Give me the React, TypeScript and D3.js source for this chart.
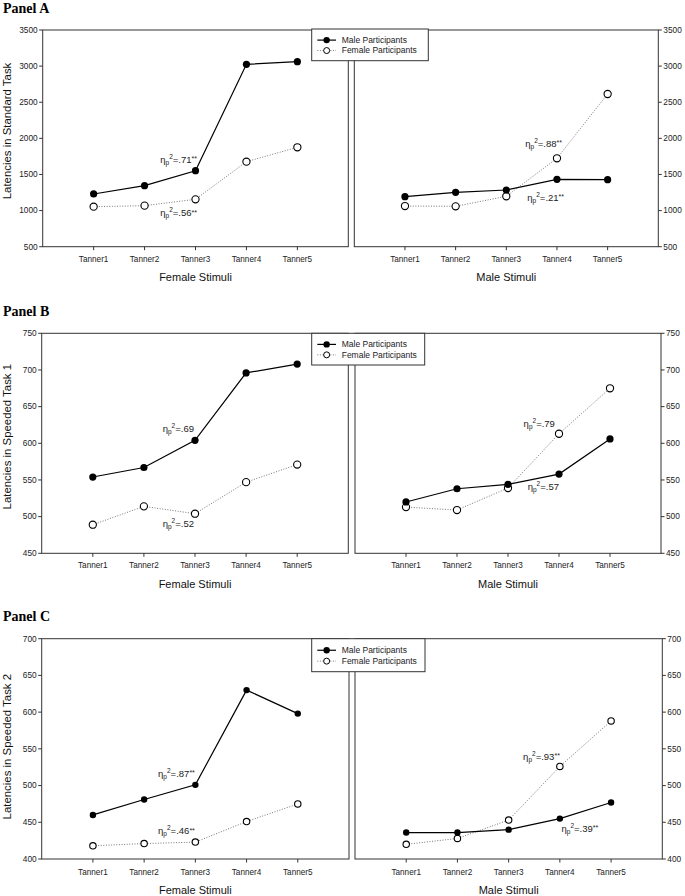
import React from "react";
import * as d3 from "d3";

// ---------- data ----------
const tanners = ["Tanner1", "Tanner2", "Tanner3", "Tanner4", "Tanner5"];
const seriesNames = ["Male Participants", "Female Participants"];

// Panel A: Standard Task
const aTicks = [500, 1000, 1500, 2000, 2500, 3000, 3500];
const aMaleFemaleStim = [1230, 1345, 1552, 3025, 3061];
const aFemaleFemaleStim = [1054, 1068, 1156, 1677, 1876];
const aMaleMaleStim = [1192, 1253, 1285, 1433, 1428];
const aFemaleMaleStim = [1063, 1059, 1198, 1724, 2614];

// Panel B: Speeded Task 1
const bTicks = [450, 500, 550, 600, 650, 700, 750];
const bMaleFemaleStim = [554, 567, 604, 696, 708];
const bFemaleFemaleStim = [489, 514, 504, 547, 571];
const bMaleMaleStim = [520, 538, 544, 558, 606];
const bFemaleMaleStim = [513, 509, 539, 613, 675];

// Panel C: Speeded Task 2
const cTicks = [400, 450, 500, 550, 600, 650, 700];
const cMaleFemaleStim = [460, 481, 501, 630, 598];
const cFemaleFemaleStim = [418, 421, 423, 451, 475];
const cMaleMaleStim = [436, 436, 440, 455, 477];
const cFemaleMaleStim = [420, 428, 453, 526, 588];

// effect size labels
const aEffects = [".71**", ".56**", ".88**", ".21**"];
const bEffects = [".69", ".52", ".79", ".57"];
const cEffects = [".87**", ".46**", ".93**", ".39**"];

// ---------- layout ----------
type Ann = { text: string; x: number; y: number };
type PanelCfg = {
  title: string;
  titleY: number;
  top: number;
  bottom: number;
  left: [number, number];
  right: [number, number];
  legendBox: [number, number, number, number];
  tickY: number;
  xLabelY: number;
  yLabelY: number;
  yLabel: string;
  ticks: number[];
  male: [number[], number[]];
  female: [number[], number[]];
  ann: [Ann[], Ann[]];
  r: number;
};

const SANS = "'Liberation Sans', Arial, Helvetica, sans-serif";
const SERIF = "'Liberation Serif', 'Times New Roman', serif";

const panels: PanelCfg[] = [
  {
    title: "Panel A",
    titleY: 12.7,
    top: 30,
    bottom: 246.7,
    left: [42.7, 348.3],
    right: [354.3, 658.3],
    legendBox: [311.7, 29, 428.3, 60.7],
    tickY: 261.5,
    xLabelY: 280.5,
    yLabelY: 131,
    yLabel: "Latencies in Standard Task",
    ticks: aTicks,
    male: [aMaleFemaleStim, aMaleMaleStim],
    female: [aFemaleFemaleStim, aFemaleMaleStim],
    ann: [
      [
        { text: aEffects[0], x: 3.03, y: 1659 },
        { text: aEffects[1], x: 3.03, y: 925 },
      ],
      [
        { text: aEffects[2], x: 4.1, y: 1885 },
        { text: aEffects[3], x: 4.14, y: 1133 },
      ],
    ],
    r: 3.6,
  },
  {
    title: "Panel B",
    titleY: 316,
    top: 333.3,
    bottom: 553.3,
    left: [41.7, 348.3],
    right: [355, 661],
    legendBox: [311.7, 333.3, 424.7, 365],
    tickY: 568,
    xLabelY: 588,
    yLabelY: 436.7,
    yLabel: "Latencies in Speeded Task 1",
    ticks: bTicks,
    male: [bMaleFemaleStim, bMaleMaleStim],
    female: [bFemaleFemaleStim, bFemaleMaleStim],
    ann: [
      [
        { text: bEffects[0], x: 2.98, y: 616 },
        { text: bEffects[1], x: 2.98, y: 486 },
      ],
      [
        { text: bEffects[2], x: 3.92, y: 622 },
        { text: bEffects[3], x: 4.0, y: 536 },
      ],
    ],
    r: 3.6,
  },
  {
    title: "Panel C",
    titleY: 620.5,
    top: 638.7,
    bottom: 859,
    left: [41.7, 349],
    right: [355, 662.3],
    legendBox: [311.7, 638.7, 425, 671.7],
    tickY: 875,
    xLabelY: 894,
    yLabelY: 746.7,
    yLabel: "Latencies in Speeded Task 2",
    ticks: cTicks,
    male: [cMaleFemaleStim, cMaleMaleStim],
    female: [cFemaleFemaleStim, cFemaleMaleStim],
    ann: [
      [
        { text: cEffects[0], x: 2.99, y: 512 },
        { text: cEffects[1], x: 2.99, y: 434 },
      ],
      [
        { text: cEffects[2], x: 4.0, y: 535 },
        { text: cEffects[3], x: 4.75, y: 437 },
      ],
    ],
    r: 3.2,
  },
];

const xLabels = ["Female Stimuli", "Male Stimuli"];
const FRAME = "#333";

function EffectLabel({ x, y, text }: { x: number; y: number; text: string }) {
  const stars = text.endsWith("**");
  const num = stars ? text.slice(0, -2) : text;
  return (
    <text x={x} y={y} textAnchor="end" fontFamily={SANS} fontSize={9.5} fill="#222">
      <tspan>η</tspan>
      <tspan fontSize={6.5} dy={2.2}>p</tspan>
      <tspan fontSize={6.5} dy={-6.2}>2</tspan>
      <tspan dy={4}>={num}</tspan>
      {stars && (
        <tspan fontSize={7} dy={-1.5}>
          **
        </tspan>
      )}
    </text>
  );
}

function Plot({
  cfg,
  side,
}: {
  cfg: PanelCfg;
  side: 0 | 1;
}) {
  const [x0, x1] = side === 0 ? cfg.left : cfg.right;
  const x = d3.scaleLinear().domain([0, 6]).range([x0, x1]);
  const ext = d3.extent(cfg.ticks) as [number, number];
  const y = d3.scaleLinear().domain(ext).range([cfg.bottom, cfg.top]);
  const line = d3
    .line<number>()
    .x((_, i) => x(i + 1))
    .y((d) => y(d));
  const male = cfg.male[side];
  const female = cfg.female[side];
  const axisX = side === 0 ? x0 : x1;
  const dir = side === 0 ? -1 : 1;
  return (
    <g>
      <rect
        x={x0}
        y={cfg.top}
        width={x1 - x0}
        height={cfg.bottom - cfg.top}
        fill="none"
        stroke={FRAME}
        strokeWidth={1}
      />
      {/* y axis */}
      {cfg.ticks.map((t) => (
        <g key={t}>
          <line x1={axisX} x2={axisX + dir * 3.5} y1={y(t)} y2={y(t)} stroke={FRAME} />
          <text
            x={axisX + dir * 5}
            y={y(t)}
            dy="0.34em"
            textAnchor={side === 0 ? "end" : "start"}
            fontFamily={SANS}
            fontSize={8.3}
            fill="#222"
          >
            {t}
          </text>
        </g>
      ))}
      {/* x axis */}
      {tanners.map((t, i) => (
        <g key={t}>
          <line x1={x(i + 1)} x2={x(i + 1)} y1={cfg.bottom} y2={cfg.bottom + 3.5} stroke={FRAME} />
          <text
            x={x(i + 1)}
            y={cfg.tickY}
            textAnchor="middle"
            fontFamily={SANS}
            fontSize={8.2}
            fill="#222"
          >
            {t}
          </text>
        </g>
      ))}
      <text
        x={x(3)}
        y={cfg.xLabelY}
        textAnchor="middle"
        fontFamily={SANS}
        fontSize={11}
        fill="#111"
      >
        {xLabels[side]}
      </text>
      {/* series */}
      <path d={line(female) || ""} fill="none" stroke="#777" strokeWidth={1} strokeDasharray="1,1.6" />
      <path d={line(male) || ""} fill="none" stroke="#000" strokeWidth={1.2} />
      {female.map((d, i) => (
        <circle key={"f" + i} cx={x(i + 1)} cy={y(d)} r={cfg.r} fill="#fff" stroke="#000" strokeWidth={1.1} />
      ))}
      {male.map((d, i) => (
        <circle key={"m" + i} cx={x(i + 1)} cy={y(d)} r={cfg.r} fill="#000" />
      ))}
      {cfg.ann[side].map((a, i) => (
        <EffectLabel key={i} x={x(a.x)} y={y(a.y)} text={a.text} />
      ))}
    </g>
  );
}

function Legend({ cfg }: { cfg: PanelCfg }) {
  const [lx0, ly0, lx1, ly1] = cfg.legendBox;
  const h = ly1 - ly0;
  const rows = [ly0 + h * 0.35, ly0 + h * 0.68];
  const sx0 = lx0 + 5.6;
  const sx1 = lx0 + 24.3;
  const sm = (sx0 + sx1) / 2;
  return (
    <g>
      <rect x={lx0} y={ly0} width={lx1 - lx0} height={h} fill="#fff" stroke={FRAME} strokeWidth={1} />
      <line x1={sx0} x2={sx1} y1={rows[0]} y2={rows[0]} stroke="#000" strokeWidth={1.2} />
      <circle cx={sm} cy={rows[0]} r={3.2} fill="#000" />
      <line x1={sx0} x2={sx1} y1={rows[1]} y2={rows[1]} stroke="#777" strokeDasharray="1,1.6" />
      <circle cx={sm} cy={rows[1]} r={3} fill="#fff" stroke="#000" strokeWidth={1} />
      {seriesNames.map((n, i) => (
        <text
          key={n}
          x={lx0 + 30}
          y={rows[i]}
          dy="0.34em"
          fontFamily={SANS}
          fontSize={8.5}
          fill="#222"
        >
          {n}
        </text>
      ))}
    </g>
  );
}

export default function App() {
  return (
    <svg
      width={685}
      height={896}
      style={{ position: "absolute", left: 0, top: 0, background: "#fff" }}
    >
      <rect width={685} height={896} fill="#fff" />
      {panels.map((p) => (
        <g key={p.title}>
          <text x={3} y={p.titleY} fontFamily={SERIF} fontWeight="bold" fontSize={14} fill="#000">
            {p.title}
          </text>
          <text
            transform={`translate(11,${p.yLabelY}) rotate(-90)`}
            textAnchor="middle"
            fontFamily={SANS}
            fontSize={11.4}
            fill="#111"
          >
            {p.yLabel}
          </text>
          <Plot cfg={p} side={0} />
          <Plot cfg={p} side={1} />
          <Legend cfg={p} />
        </g>
      ))}
    </svg>
  );
}
